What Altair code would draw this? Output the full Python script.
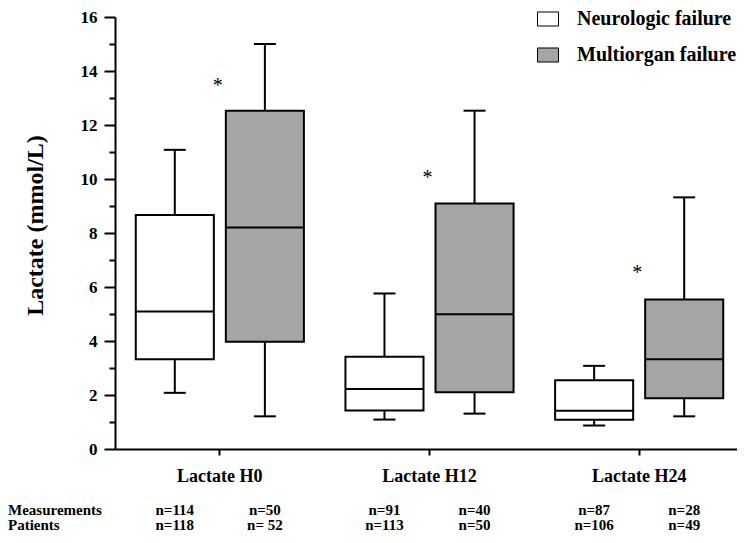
import altair as alt
import pandas as pd

categories = ["Lactate H0", "Lactate H12", "Lactate H24"]
groups = ["Neurologic failure", "Multiorgan failure"]

neuro_low = [2.08, 1.09, 0.87]
neuro_q1 = [3.32, 1.43, 1.08]
neuro_med = [5.09, 2.22, 1.42]
neuro_q3 = [8.67, 3.42, 2.55]
neuro_high = [11.08, 5.76, 3.08]

multi_low = [1.21, 1.31, 1.21]
multi_q1 = [3.97, 2.10, 1.88]
multi_med = [8.20, 4.99, 3.32]
multi_q3 = [12.53, 9.09, 5.54]
multi_high = [15.0, 12.53, 9.32]

star_values = [13.4, 10.0, 6.5]

measurements_n = ["n=114", "n=50", "n=91", "n=40", "n=87", "n=28"]
patients_n = ["n=118", "n= 52", "n=113", "n=50", "n=106", "n=49"]
row_labels = ["Measurements", "Patients"]

rows = []
for i, c in enumerate(categories):
    rows.append(dict(cat=c, grp=groups[0], low=neuro_low[i], q1=neuro_q1[i], med=neuro_med[i], q3=neuro_q3[i], high=neuro_high[i]))
    rows.append(dict(cat=c, grp=groups[1], low=multi_low[i], q1=multi_q1[i], med=multi_med[i], q3=multi_q3[i], high=multi_high[i]))
df = pd.DataFrame(rows)

star_df = pd.DataFrame({"cat": categories, "v": star_values})

count_rows = []
k = 0
for c in categories:
    for g in groups:
        count_rows.append(dict(cat=c, grp=g, meas=measurements_n[k], pat=patients_n[k]))
        k += 1
count_df = pd.DataFrame(count_rows)
label_df = pd.DataFrame({"lab": row_labels})

FONT = "Liberation Serif"
H = 432
ROW1 = 493
ROW2 = 508

xscale = alt.Scale(domain=categories, range=[0, 629], paddingInner=0, paddingOuter=0)
xaxis = alt.Axis(title=None, labelAngle=0, tickSize=6, labelPadding=12, labelFontSize=18)
yscale = alt.Scale(domain=[0, 16], nice=False, zero=True)
yaxis = alt.Axis(
    title="Lactate (mmol/L)",
    values=list(range(0, 17)),
    labelExpr="datum.value % 2 == 0 ? datum.label : ''",
    tickSize={"condition": {"test": "datum.value % 2 == 1", "value": 6}, "value": 11},
    labelPadding=7,
    labelFontSize=17,
    grid=False,
    titleFontSize=24,
    titleAngle=270,
    titleX=-80,
    titleY=208,
    titleAlign="center",
    titleBaseline="middle",
)
oscale = alt.Scale(domain=groups, paddingInner=0.1333, paddingOuter=0.2306)

X = alt.X("cat:N", scale=xscale, axis=xaxis)
XO = alt.XOffset("grp:N", scale=oscale)

def Y(field):
    return alt.Y(field, type="quantitative", scale=yscale, axis=yaxis)

base = alt.Chart(df)

whisk_lo = base.mark_rule(color="black", strokeWidth=2).encode(x=X, xOffset=XO, y=Y("low"), y2="q1:Q")
whisk_hi = base.mark_rule(color="black", strokeWidth=2).encode(x=X, xOffset=XO, y=Y("q3"), y2="high:Q")
box = base.mark_bar(stroke="black", strokeWidth=2, opacity=1).encode(
    x=X, xOffset=XO, y=Y("q1"), y2="q3:Q",
    fill=alt.Fill("grp:N", scale=alt.Scale(domain=groups, range=["#ffffff", "#a5a5a5"]),
                  legend=alt.Legend(
                      title=None, orient="none", legendX=422, legendY=-9, padding=0,
                      symbolType="M-1,-0.667L1,-0.667L1,0.667L-1,0.667Z",
                      symbolSize=441, symbolStrokeColor="black", symbolStrokeWidth=1,
                      symbolOpacity=1,
                      labelFont=FONT, labelFontWeight="bold", labelFontSize=20,
                      labelColor="black", labelOffset=18, rowPadding=15,
                      labelLimit=400)),
)
med = base.mark_tick(color="black", thickness=2, size=78, opacity=1).encode(x=X, xOffset=XO, y=Y("med"))
cap_lo = base.mark_tick(color="black", thickness=2, size=22, opacity=1).encode(x=X, xOffset=XO, y=Y("low"))
cap_hi = base.mark_tick(color="black", thickness=2, size=22, opacity=1).encode(x=X, xOffset=XO, y=Y("high"))

stars = alt.Chart(star_df).mark_text(text="*", font=FONT, fontSize=20, color="black", dy=-1, dx=-2).encode(
    x=X, y=Y("v"))

txt = dict(font=FONT, fontWeight="bold", fontSize=15, color="black", baseline="middle")
meas_text = alt.Chart(count_df).mark_text(**txt).encode(
    x=X, xOffset=XO, y=alt.value(ROW1), text="meas:N")
pat_text = alt.Chart(count_df).mark_text(**txt).encode(
    x=X, xOffset=XO, y=alt.value(ROW2), text="pat:N")
meas_lab = alt.Chart(label_df.iloc[[0]]).mark_text(align="left", **txt).encode(
    x=alt.value(-107), y=alt.value(ROW1), text="lab:N")
pat_lab = alt.Chart(label_df.iloc[[1]]).mark_text(align="left", **txt).encode(
    x=alt.value(-107), y=alt.value(ROW2), text="lab:N")

chart = alt.layer(whisk_lo, whisk_hi, box, med, cap_lo, cap_hi, stars, meas_text, pat_text, meas_lab, pat_lab).properties(
    width=622, height=H,
    autosize=alt.AutoSizeParams(type="none"),
    padding={"left": 107, "top": 9, "right": 0, "bottom": 86},
).configure_view(stroke=None).configure_axis(
    labelFont=FONT, titleFont=FONT, labelFontWeight="bold", titleFontWeight="bold",
    labelColor="black", titleColor="black", domainColor="black", tickColor="black",
    domainWidth=2, tickWidth=2,
)

chart.save("out.html", embed_options={"renderer": "svg", "actions": False})
